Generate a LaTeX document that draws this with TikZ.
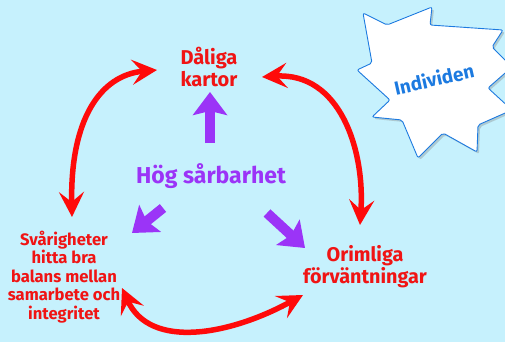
\documentclass[tikz,border=0pt]{standalone}
\usepackage{fontspec}
\setmainfont{Fira Sans}
\usetikzlibrary{arrows.meta,calc,shadows}

\definecolor{himmel}{HTML}{C6F1FD}
\definecolor{roed}{HTML}{FF0A0A}
\definecolor{roedtext}{HTML}{F01414}
\definecolor{lila}{HTML}{9B34F7}
\definecolor{stjarnbla}{HTML}{1C7AE0}

\tikzset{
  redtext/.style={text=roedtext, font=\bfseries, align=center, inner sep=0pt},
  redarrow/.style={draw=roed, line width=5.5pt,
    {Stealth[length=25pt,width=25pt,inset=10pt]}-{Stealth[length=25pt,width=25pt,inset=10pt]}},
  purplearrow/.style={draw=lila, line width=10pt,
    -{Stealth[length=23pt,width=34pt,inset=4pt]}},
}

\begin{document}
\begin{tikzpicture}[x=1pt,y=-1pt]
\useasboundingbox (0,0) rectangle (505,342);
\fill[himmel] (0,0) rectangle (505,342);
\begin{scope}
\clip (0,0) rectangle (505,342);

% starburst behind "Individen"
\filldraw[fill=white, draw=stjarnbla, line width=0.9pt, rounded corners=2pt,
  drop shadow={shadow xshift=2pt, shadow yshift=-2pt, opacity=0.35}]
  (363,13) -- (387,25) -- (432,7) -- (430,25) -- (503,30) -- (492,47)
  -- (512,67) -- (488,88) -- (512,110) -- (478,125) -- (477,152)
  -- (443,133) -- (418,158) -- (402,120) -- (372,117) -- (390,100)
  -- (357,70) -- (372,63) -- cycle;
\node[text=stjarnbla, font=\bfseries\fontsize{19}{19}\selectfont, rotate=12.6]
  (ind) at (434,79) {Individen};

% the four texts
\node[redtext, font=\bfseries\fontsize{20}{22}\selectfont] (dk) at (209,67) {Dåliga\\kartor};
\node[text=lila, font=\bfseries\fontsize{23}{23}\selectfont] (hs) at (211,176) {Hög sårbarhet};
\node[redtext, font=\bfseries\fontsize{16.6}{18.6}\selectfont] (sv) at (64,277)
  {Svårigheter\\hitta bra\\balans mellan\\samarbete och\\integritet};
\node[redtext, font=\bfseries\fontsize{19.8}{22}\selectfont] (of) at (365,267) {Orimliga\\förväntningar};

\end{scope}

% red two-way arrows round the circle
\draw[redarrow] ($(dk)+(-52,3)$) .. controls (100,75) and (70,120) .. ($(sv)+(8,-60)$);
\draw[redarrow] ($(dk)+(53,10)$) .. controls (340,72) and (365,150) .. ($(of)+(-5,-42)$);
\draw[redarrow] ($(sv)+(58,11)$) .. controls (150,350) and (230,335) .. ($(of)+(-62,28)$);

% purple arrows out of the middle
\draw[purplearrow] ($(hs)+(-1,-33)$) -- ($(dk)+(1,25)$);
\draw[purplearrow] ($(hs)+(-48,32)$) -- ($(sv)+(68,-44)$);
\draw[purplearrow] ($(hs)+(56,37)$) -- ($(of)+(-60,-19)$);
\end{tikzpicture}
\end{document}
